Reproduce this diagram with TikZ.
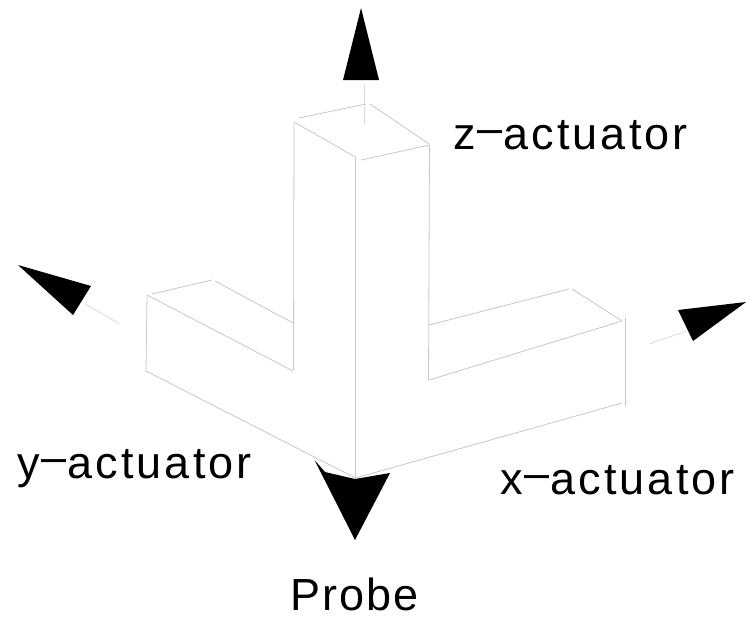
\documentclass[tikz,border=0pt]{standalone}
\usepackage{fontspec}
\setmainfont[LetterSpace=7]{Liberation Sans}
\newfontfamily\probefont[LetterSpace=4.5]{Liberation Sans}
\usetikzlibrary{positioning}
\newcommand{\actdash}{\kern1.5pt\raisebox{5.5pt}{--}\kern1pt}
\begin{document}
\begin{tikzpicture}[
    x=1pt, y=-1pt,
    every node/.style={font=\fontsize{45}{45}\selectfont, inner sep=0pt, anchor=base west},
    edgeline/.style={draw=black!22, line width=0.8pt},
    shaft/.style={draw=black!15, line width=0.8pt},
    head/.style={fill=black, draw=none}
]
\useasboundingbox (0,0) rectangle (746,616);
% column
\coordinate (ztopl) at (294,122);
\coordinate (ztopf) at (355.5,157);
\coordinate (ztopr) at (429.5,145);
\coordinate (corner) at (355.5,478);
\draw[edgeline] (299,118) -- (366,104);
\draw[edgeline] (370,104) -- (429,144);
\draw[edgeline] (ztopl) -- (ztopf);
\draw[edgeline] (361,160) -- (ztopr);
\draw[edgeline] (ztopl) -- (293.5,370);
\draw[edgeline] (ztopf) -- (corner);
\draw[edgeline] (ztopr) -- (428.5,380);
% y arm
\coordinate (ya) at (147,295);
\coordinate (yb) at (146,371);
\draw[edgeline] (152,294) -- (212,280);
\draw[edgeline] (215,281) -- (293,323);
\draw[edgeline] (ya) -- (293,371);
\draw[edgeline] (ya) -- (yb);
\draw[edgeline] (yb) -- (corner);
% x arm
\coordinate (xa) at (622,321);
\draw[edgeline] (429,325) -- (569,289);
\draw[edgeline] (572,289) -- (xa);
\draw[edgeline] (429,380) -- (xa);
\draw[edgeline] (corner) -- (622,403);
\draw[edgeline] (625.5,318) -- (625.5,406);
% arrows
\draw[shaft] (364.5,84) -- (364.5,124);
\draw[shaft] (85,304) -- (120,324);
\draw[shaft] (649,344) -- (687,331);
\fill[head] (361,8) -- (379,80) -- (343,80) -- cycle;
\fill[head] (18,265) -- (91,286) -- (73,315) -- cycle;
\fill[head] (746,302) -- (678,310) -- (693,341) -- cycle;
\fill[head] (314.5,460) -- (325,472) -- (355,479) -- (390,473) -- (355,540) -- cycle;
% labels
\node (zlabel) at (453,149) {z\actdash actuator};
\node (ylabel) at (17,478) {y\actdash actuator};
\node (xlabel) at (500,494) {x\actdash actuator};
\node[font=\fontsize{45}{45}\selectfont\probefont] (probe) at (290,610) {Probe};
\end{tikzpicture}
\end{document}
